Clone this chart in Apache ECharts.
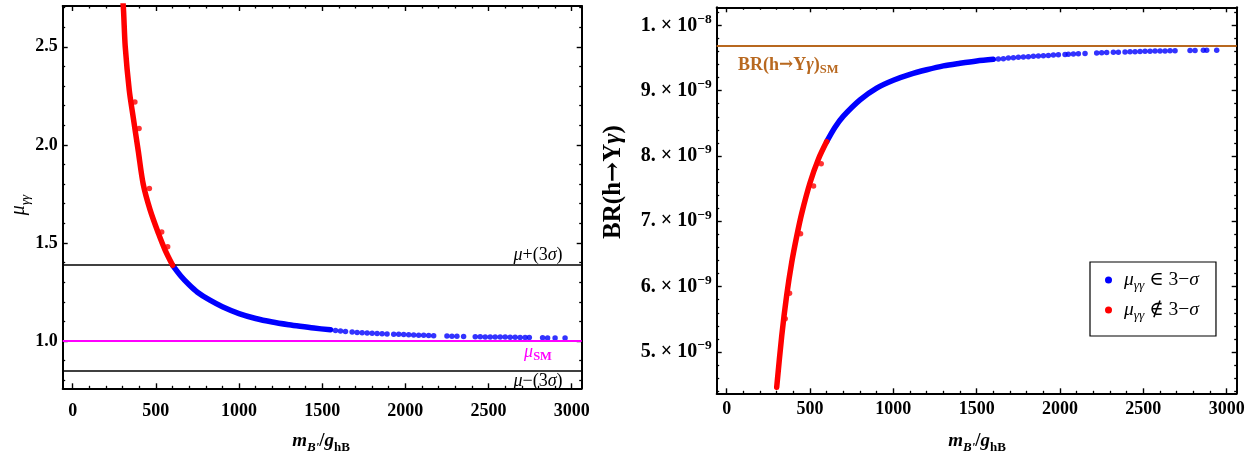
<!DOCTYPE html>
<html><head><meta charset="utf-8">
<script src="https://cdn.jsdelivr.net/npm/echarts@6/dist/echarts.min.js"></script>
<style>html,body{margin:0;padding:0;background:#fff}#c{width:1254px;height:454px}</style>
</head><body><div id="c"></div>
<script>
// ---------------- data ----------------
// common x axis (m_B'/g_hB)
const xTicks = [0, 500, 1000, 1500, 2000, 2500, 3000];
const xMinorTicks = [100,200,300,400,600,700,800,900,1100,1200,1300,1400,1600,1700,1800,1900,2100,2200,2300,2400,2600,2700,2800,2900];

// left panel : mu_gamma gamma
const muTicks = [1.0, 1.5, 2.0, 2.5];
const muMinorTicks = [0.8,0.9,1.1,1.2,1.3,1.4,1.6,1.7,1.8,1.9,2.1,2.2,2.3,2.4,2.6,2.7];
const muRedX = [300, 306, 316, 340, 364, 394, 424, 465, 515, 555, 601];
const muRedY = [2.76, 2.68, 2.50, 2.28, 2.14, 1.97, 1.80, 1.67, 1.55, 1.465, 1.386];
const muRedOutX = [374, 399, 461, 535, 571];
const muRedOutY = [2.219, 2.084, 1.778, 1.556, 1.480];
const muBlueX = [601, 650, 700, 750, 825, 900, 1000, 1100, 1200, 1300, 1367, 1450, 1550];
const muBlueY = [1.386, 1.332, 1.287, 1.249, 1.208, 1.175, 1.140, 1.115, 1.097, 1.083, 1.075, 1.066, 1.057];
const muTailX = [1580,1610,1640,1680,1710,1740,1770,1800,1830,1860,1890,1930,1960,1990,2020,2050,2080,2110,2140,2170,2250,2280,2310,2350,2420,2450,2480,2510,2540,2570,2600,2630,2660,2690,2720,2745,2825,2855,2900,2960];
const muTailY = [1.054,1.051,1.048,1.046,1.044,1.042,1.041,1.040,1.039,1.037,1.036,1.035,1.034,1.033,1.032,1.031,1.030,1.029,1.028,1.027,1.025,1.024,1.024,1.023,1.022,1.022,1.021,1.021,1.020,1.020,1.020,1.019,1.019,1.018,1.018,1.018,1.017,1.016,1.016,1.015];
const muPlus3s = 1.388, muMinus3s = 0.849, muSM = 1.0;

// right panel : BR(h -> Upsilon gamma), in units of 1e-9
const brTicks = [5, 6, 7, 8, 9, 10];
const brTickMant = ['5.', '6.', '7.', '8.', '9.', '1.'];
const brTickExp = ['−9', '−9', '−9', '−9', '−9', '−8'];
const brMinorTicks = [4.4,4.6,4.8,5.2,5.4,5.6,5.8,6.2,6.4,6.6,6.8,7.2,7.4,7.6,7.8,8.2,8.4,8.6,8.8,9.2,9.4,9.6,9.8,10.2];
const brRedX = [300, 330, 360, 390, 420, 450, 500, 550, 600];
const brRedY = [4.46, 5.24, 5.87, 6.37, 6.77, 7.12, 7.59, 7.95, 8.22];
const brRedOutX = [351, 377, 443, 521, 567];
const brRedOutY = [5.51, 5.90, 6.81, 7.54, 7.88];
const brBlueX = [600, 650, 700, 800, 900, 1000, 1100, 1200, 1300, 1400, 1500, 1600];
const brBlueY = [8.22, 8.44, 8.61, 8.86, 9.04, 9.16, 9.25, 9.32, 9.38, 9.42, 9.455, 9.48];
const brTailX = [1630,1660,1690,1720,1750,1780,1810,1840,1870,1900,1930,1960,1990,2030,2050,2080,2110,2150,2220,2250,2280,2320,2350,2390,2420,2450,2480,2510,2540,2570,2600,2630,2660,2690,2780,2810,2860,2880,2940];
const brTailY = [9.485,9.49,9.50,9.505,9.51,9.515,9.52,9.525,9.53,9.535,9.54,9.545,9.55,9.555,9.556,9.56,9.565,9.57,9.578,9.58,9.583,9.586,9.589,9.592,9.595,9.597,9.60,9.602,9.604,9.606,9.607,9.608,9.609,9.61,9.614,9.615,9.617,9.618,9.62];
const brSM = 9.694;

// ---------------- chart ----------------
const serif = '"Liberation Serif", "DejaVu Serif", serif';
const zip = (a, b) => a.map((v, i) => [v, b[i]]);
const RED = '#ff0000', BLUE = '#0000ff', MAG = '#ff00ff', BROWN = '#b8681f';

function frameAxes(gridIndex, position, min, max, majors, minors, label) {
  const base = { type: 'value', gridIndex, position, min, max, splitLine: { show: false }, axisPointer: { show: false } };
  const major = Object.assign({}, base, {
    axisLine: { show: true, onZero: false, lineStyle: { color: '#000', width: 2 } },
    axisTick: { show: true, inside: true, length: 5, lineStyle: { color: '#000', width: 1.4 }, customValues: majors },
    axisLabel: label ? Object.assign({ show: true, customValues: majors, color: '#000', fontFamily: serif, fontWeight: 'bold', fontSize: 18 }, label) : { show: false }
  });
  const minor = Object.assign({}, base, {
    axisLine: { show: false, onZero: false },
    axisTick: { show: true, inside: true, length: 2.5, lineStyle: { color: '#000', width: 1.3 }, customValues: minors },
    axisLabel: { show: false }
  });
  return [major, minor];
}

const X0 = -60, X1 = 3060;
const MU0 = 0.759, MU1 = 2.708;
const BR0 = 4.367, BR1 = 10.276;

const xAxes = [
  ...frameAxes(0, 'bottom', X0, X1, xTicks, xMinorTicks, { margin: 14, formatter: v => String(v) }),
  ...frameAxes(0, 'top', X0, X1, xTicks, xMinorTicks, null),
  ...frameAxes(1, 'bottom', X0, X1, xTicks, xMinorTicks, { margin: 7, formatter: v => String(v) }),
  ...frameAxes(1, 'top', X0, X1, xTicks, xMinorTicks, null)
];
const yAxes = [
  ...frameAxes(0, 'left', MU0, MU1, muTicks, muMinorTicks, { margin: 5, formatter: v => v.toFixed(1) }),
  ...frameAxes(0, 'right', MU0, MU1, muTicks, muMinorTicks, null),
  ...frameAxes(1, 'left', BR0, BR1, brTicks, brMinorTicks, {
    margin: 5,
    formatter: v => { const i = brTicks.findIndex(t => Math.abs(t - v) < 1e-6); return '{m|' + brTickMant[i] + ' × 10}{e|' + brTickExp[i] + '}'; },
    rich: {
      m: { fontSize: 20, fontWeight: 'bold', fontFamily: serif, color: '#000', lineHeight: 26, verticalAlign: 'middle' },
      e: { fontSize: 13.5, fontWeight: 'bold', fontFamily: serif, color: '#000', lineHeight: 13, verticalAlign: 'top' }
    }
  }),
  ...frameAxes(1, 'right', BR0, BR1, brTicks, brMinorTicks, null)
];

function hline(v, color, w) {
  return { yAxis: v, lineStyle: { color, width: w, type: 'solid' } };
}
const curve = (name, xi, yi, data, color, z, extra) => Object.assign({
  name, type: 'line', xAxisIndex: xi, yAxisIndex: yi, data, smooth: 0.3, symbol: 'none', clip: true,
  itemStyle: { color }, lineStyle: { color, width: 5.5, cap: 'round', join: 'round' }, z
}, extra || {});
const dots = (name, xi, yi, data, color, z) => ({
  name, type: 'scatter', xAxisIndex: xi, yAxisIndex: yi, data, symbolSize: 5.5, itemStyle: { color }, z
});

const series = [
  // left
  curve('out', 0, 0, zip(muRedX, muRedY), RED, 5, {
    markLine: { silent: true, symbol: 'none', label: { show: false }, animation: false,
      data: [hline(muPlus3s, '#000', 1.6), hline(muSM, MAG, 1.8), hline(muMinus3s, '#000', 1.6)] } }),
  dots('out', 0, 0, zip(muRedOutX, muRedOutY), RED, 5),
  curve('in', 0, 0, zip(muBlueX, muBlueY), BLUE, 4),
  dots('in', 0, 0, zip(muTailX, muTailY), BLUE, 4),
  // right
  curve('out', 4, 4, zip(brRedX, brRedY), RED, 5, {
    markLine: { silent: true, symbol: 'none', label: { show: false }, animation: false,
      data: [hline(brSM, BROWN, 2.2)] } }),
  dots('out', 4, 4, zip(brRedOutX, brRedOutY), RED, 5),
  curve('in', 4, 4, zip(brBlueX, brBlueY), BLUE, 4),
  dots('in', 4, 4, zip(brTailX, brTailY), BLUE, 4)
];

const T = (o) => Object.assign({ fontFamily: serif, fill: '#000', color: '#000' }, o);
const xTitleRich = {
  m: T({ fontSize: 19, fontWeight: 'bold', fontStyle: 'italic', lineHeight: 26, verticalAlign: 'middle' }),
  s: T({ fontSize: 13, fontWeight: 'bold', fontStyle: 'italic', lineHeight: 12, verticalAlign: 'bottom' }),
  t: T({ fontSize: 19, fontWeight: 'bold', lineHeight: 26, verticalAlign: 'middle' }),
  b: T({ fontSize: 13, fontWeight: 'bold', lineHeight: 12, verticalAlign: 'bottom' })
};

const graphic = [
  // left y title
  { type: 'text', x: 19, y: 205, rotation: Math.PI / 2, style: {
      text: '{a|μ}{s|γγ}', align: 'center', verticalAlign: 'middle',
      rich: { a: T({ fontSize: 20, fontStyle: 'italic', lineHeight: 26, verticalAlign: 'middle' }),
              s: T({ fontSize: 13, fontStyle: 'italic', lineHeight: 12, verticalAlign: 'bottom' }) } } },
  // right y title
  { type: 'text', x: 614, y: 182, rotation: Math.PI / 2, style: {
      text: '{a|BR(h}{r|→}{a|Υ}{g|γ}{a|)}', align: 'center', verticalAlign: 'middle',
      rich: { a: T({ fontSize: 25, fontWeight: 'bold' }),
              r: T({ fontSize: 24, fontWeight: 'bold', fontFamily: '"DejaVu Serif", serif' }),
              g: T({ fontSize: 25, fontWeight: 'bold', fontStyle: 'italic' }) } } },
  // x titles
  { type: 'text', x: 321, y: 441, style: { text: '{m|m}{s|B\'}{t|/}{m|g}{b|hB}', align: 'center', verticalAlign: 'middle', rich: xTitleRich } },
  { type: 'text', x: 977, y: 441, style: { text: '{m|m}{s|B\'}{t|/}{m|g}{b|hB}', align: 'center', verticalAlign: 'middle', rich: xTitleRich } },
  // left annotations
  { type: 'text', x: 538, y: 255, style: {
      text: '{i|μ}{t|+(3}{i|σ}{t|)}', align: 'center', verticalAlign: 'middle',
      rich: { i: T({ fontSize: 18, fontStyle: 'italic' }), t: T({ fontSize: 18 }) } } },
  { type: 'text', x: 538, y: 381, style: {
      text: '{i|μ}{t|−(3}{i|σ}{t|)}', align: 'center', verticalAlign: 'middle',
      rich: { i: T({ fontSize: 18, fontStyle: 'italic' }), t: T({ fontSize: 18 }) } } },
  { type: 'text', x: 538, y: 352, style: {
      text: '{i|μ}{s|SM}', align: 'center', verticalAlign: 'middle',
      rich: { i: T({ fontSize: 18, fontStyle: 'italic', fill: MAG, color: MAG, lineHeight: 22, verticalAlign: 'middle' }),
              s: T({ fontSize: 12.5, fontWeight: 'bold', fill: MAG, color: MAG, lineHeight: 12, verticalAlign: 'bottom' }) } } },
  // right annotation
  { type: 'text', x: 738, y: 65, style: {
      text: '{a|BR(h}{r|→}{a|Υ}{i|γ}{a|)}{s|SM}', align: 'left', verticalAlign: 'middle',
      rich: { a: T({ fontSize: 18, fontWeight: 'bold', fill: BROWN, color: BROWN, lineHeight: 22, verticalAlign: 'middle' }),
              r: T({ fontSize: 17, fontWeight: 'bold', fontFamily: '"DejaVu Serif", serif', fill: BROWN, color: BROWN, lineHeight: 22, verticalAlign: 'middle' }),
              i: T({ fontSize: 18, fontWeight: 'bold', fontStyle: 'italic', fill: BROWN, color: BROWN, lineHeight: 22, verticalAlign: 'middle' }),
              s: T({ fontSize: 12.5, fontWeight: 'bold', fill: BROWN, color: BROWN, lineHeight: 12, verticalAlign: 'bottom' }) } } }
];

const legendRich = {
  mu: { fontFamily: serif, fontSize: 19.5, fontStyle: 'italic', color: '#000', lineHeight: 24, verticalAlign: 'middle', padding: [0, 0, 0, 7] },
  sub: { fontFamily: serif, fontSize: 13.5, fontStyle: 'italic', color: '#000', lineHeight: 12, verticalAlign: 'bottom' },
  t: { fontFamily: serif, fontSize: 19.5, color: '#000', lineHeight: 24, verticalAlign: 'middle' },
  it: { fontFamily: serif, fontSize: 19.5, fontStyle: 'italic', color: '#000', lineHeight: 24, verticalAlign: 'middle' }
};

const chart = echarts.init(document.getElementById('c'), null, { renderer: 'canvas' });
chart.setOption({
  animation: false,
  backgroundColor: '#fff',
  grid: [
    { left: 62.7, top: 6, width: 519, height: 382.3 },
    { left: 716.7, top: 7.3, width: 520, height: 386 }
  ],
  xAxis: xAxes,
  yAxis: yAxes,
  legend: {
    data: [{ name: 'in', icon: 'circle' }, { name: 'out', icon: 'circle' }],
    orient: 'vertical', left: 1090, top: 262,
    itemWidth: 7, itemHeight: 7, itemGap: 8,
    padding: [8, 17, 14, 15],
    borderColor: '#000', borderWidth: 1.2,
    selectedMode: false,
    formatter: n => n === 'in' ? '{mu|μ}{sub|γγ}{t| ∈ 3−}{it|σ}' : '{mu|μ}{sub|γγ}{t| ∉ 3−}{it|σ}',
    textStyle: { rich: legendRich }
  },
  series,
  graphic
});
</script>
</body></html>
